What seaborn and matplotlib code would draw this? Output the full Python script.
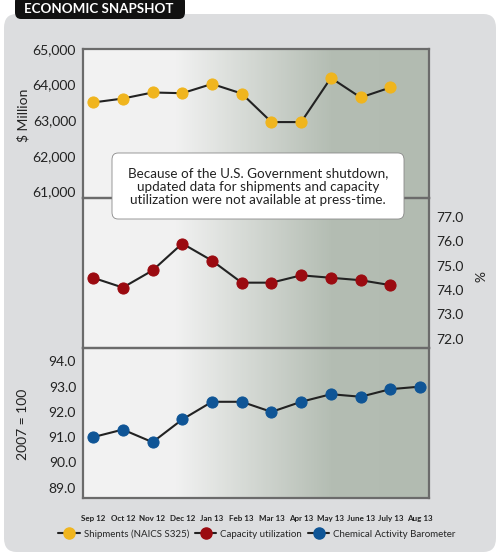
import numpy as np
import pandas as pd
import matplotlib
matplotlib.use('Agg')
import matplotlib.pyplot as plt
import seaborn as sns
from matplotlib.patches import FancyBboxPatch
from matplotlib.lines import Line2D
from matplotlib.colors import LinearSegmentedColormap

sns.set_theme(style='white')
plt.rcParams['font.family'] = ['Lato', 'DejaVu Sans']

# data
months = ['Sep 12', 'Oct 12', 'Nov 12', 'Dec 12', 'Jan 13', 'Feb 13', 'Mar 13',
          'Apr 13', 'May 13', 'June 13', 'July 13', 'Aug 13']
shipments = [63500, 63610, 63780, 63760, 64020, 63750, 62950, 62950, 64190, 63640, 63920]
capacity = [74.5, 74.1, 74.8, 75.9, 75.2, 74.3, 74.3, 74.6, 74.5, 74.4, 74.2]
cab = [91.0, 91.3, 90.8, 91.7, 92.4, 92.4, 92.0, 92.4, 92.7, 92.6, 92.9, 93.0]

ship_ticks = [61000, 62000, 63000, 64000, 65000]
cap_ticks = [72.0, 73.0, 74.0, 75.0, 76.0, 77.0]
cab_ticks = [89.0, 90.0, 91.0, 92.0, 93.0, 94.0]

YELLOW = '#f0b51e'
RED = '#9b0a10'
BLUE = '#0f5596'
LINE = '#222222'
SPINE = '#6b6b6b'
TXT = '#222222'

W, H = 500, 558
fig = plt.figure(figsize=(W / 100, H / 100), dpi=100)
fig.patch.set_facecolor('white')


def fx(px):
    return px / W


def fy(py):
    return 1 - py / H


# outer gray panel + title tab
fig.patches.append(FancyBboxPatch((fx(4), fy(552)), fx(492), (550 - 12) / H,
                                  boxstyle='round,pad=0,rounding_size=0.025',
                                  transform=fig.transFigure, facecolor='#dcdddf',
                                  edgecolor='none', zorder=0))
fig.patches.append(FancyBboxPatch((fx(15), fy(19)), fx(170), 24 / H,
                                  boxstyle='round,pad=0,rounding_size=0.012',
                                  transform=fig.transFigure, facecolor='#111111',
                                  edgecolor='none', zorder=1))
fig.text(fx(99), fy(9), 'ECONOMIC SNAPSHOT', color='white', fontsize=9.6,
         fontweight='bold', ha='center', va='center')

# plot box geometry (pixels)
L, R = 83, 429
T1, B1, B2, B3 = 49, 198, 348, 498

# gradient background behind all panels
bg = fig.add_axes([fx(L), fy(B3), fx(R - L), (B3 - T1) / H], zorder=1)
cmap = LinearSegmentedColormap.from_list(
    'bg', [(0, '#f3f3f3'), (0.27, '#f1f1f1'), (0.72, '#b4bdb3'), (1, '#b2bbb1')])
bg.imshow(np.linspace(0, 1, 300)[None, :], aspect='auto', cmap=cmap,
          extent=[0, 1, 0, 1])
bg.set_axis_off()

xlim = (-0.34, 11.3)
xs = np.arange(len(months))


def panel(top, bottom):
    ax = fig.add_axes([fx(L), fy(bottom), fx(R - L), (bottom - top) / H], zorder=2)
    ax.set_facecolor('none')
    for s in ax.spines.values():
        s.set_color(SPINE)
        s.set_linewidth(1.6)
    ax.set_xlim(*xlim)
    ax.tick_params(length=0, labelsize=10, colors=TXT)
    return ax


def draw(ax, vals, color):
    df = pd.DataFrame({'x': xs[:len(vals)], 'y': vals})
    sns.lineplot(data=df, x='x', y='y', ax=ax, color=LINE, linewidth=1.5,
                 marker='o', markersize=8, markerfacecolor=color,
                 markeredgecolor=color, zorder=3)
    ax.set_xlabel('')
    ax.set_ylabel('')


# top: shipments
ax1 = panel(T1, B1)
draw(ax1, shipments, YELLOW)
ax1.set_ylim(60820, 65000)
ax1.set_yticks(ship_ticks)
ax1.set_yticklabels([f'{v:,}' for v in ship_ticks])
ax1.set_xticks([])
ax1.tick_params(axis='y', pad=5)

# middle: capacity utilization, right axis
ax2 = panel(B1, B2)
draw(ax2, capacity, RED)
ax2.set_ylim(71.63, 77.76)
ax2.yaxis.tick_right()
ax2.set_yticks(cap_ticks)
ax2.set_yticklabels([f'{v:.1f}' for v in cap_ticks])
ax2.set_xticks([])
ax2.tick_params(axis='y', pad=5)

# bottom: CAB
ax3 = panel(B2, B3)
draw(ax3, cab, BLUE)
ax3.set_ylim(88.59, 94.53)
ax3.set_yticks(cab_ticks)
ax3.set_yticklabels([f'{v:.1f}' for v in cab_ticks])
ax3.set_xticks(xs)
ax3.set_xticklabels(months, fontsize=5.8, fontweight='bold')
ax3.tick_params(axis='x', pad=12)
ax3.tick_params(axis='y', pad=5)

# axis titles
fig.text(fx(23), fy(115), '$ Million', rotation=90, ha='center', va='center',
         fontsize=10, color=TXT)
fig.text(fx(477), fy(277), '%', rotation=270, ha='center', va='center',
         fontsize=10, color=TXT)
fig.text(fx(23), fy(424), '2007 = 100', rotation=90, ha='center', va='center',
         fontsize=10, color=TXT)

# notice box
fig.patches.append(FancyBboxPatch((fx(112), fy(219)), fx(292), 66 / H,
                                  boxstyle='round,pad=0,rounding_size=0.012',
                                  transform=fig.transFigure, facecolor='white',
                                  edgecolor='#888888', linewidth=0.6, zorder=5))
fig.text(fx(258), fy(187), 'Because of the U.S. Government shutdown,\n'
         'updated data for shipments and capacity\n'
         'utilization were not available at press-time.',
         ha='center', va='center', fontsize=9.7, color=TXT, linespacing=1.15,
         zorder=6)

# legend
handles = [Line2D([], [], color=LINE, lw=1.5, marker='o', markersize=8,
                  markerfacecolor=c, markeredgecolor=c)
           for c in (YELLOW, RED, BLUE)]
fig.legend(handles, ['Shipments (NAICS S325)', 'Capacity utilization',
                     'Chemical Activity Barometer'],
           loc='center', bbox_to_anchor=(fx(257), fy(534)), ncol=3, frameon=False,
           fontsize=7, handlelength=2.2, handletextpad=0.4, columnspacing=0.6)

fig.savefig('out.png', dpi=100)
